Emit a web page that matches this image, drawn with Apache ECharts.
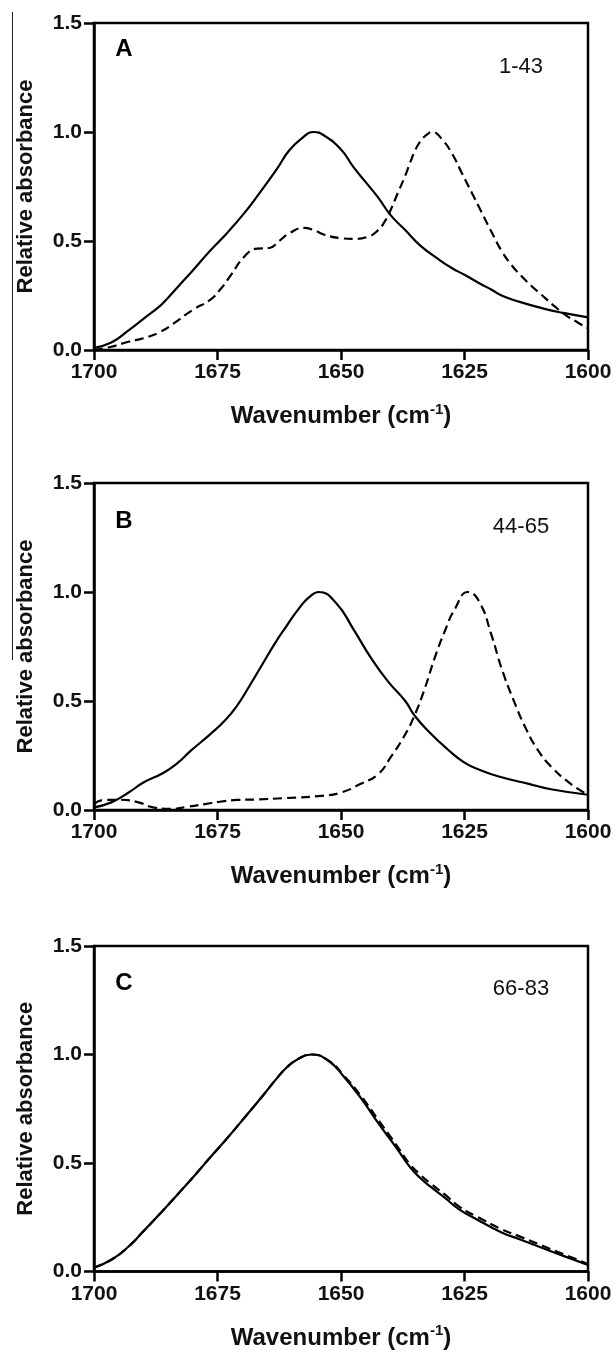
<!DOCTYPE html>
<html><head><meta charset="utf-8">
<script src="https://cdn.jsdelivr.net/npm/echarts@6/dist/echarts.min.js"></script>
<style>html,body{margin:0;padding:0;background:#fff}#c{width:616px;height:1351px}</style>
</head><body><div id="c"></div>
<script>
// ---- tick / label data ----
const xTickStep = 25;            // 1700,1675,1650,1625,1600
const xMin = 1600, xMax = 1700;
const yMin = 0, yMax = 1.5, yStep = 0.5;
const panelLetters = ['A', 'B', 'C'];
const panelRanges = ['1-43', '44-65', '66-83'];
const yTitle = 'Relative absorbance';
const xTitle = 'Wavenumber (cm{sup|-1})';

// ---- Panel A ----
const aSolidX = [1700,1696.5,1693,1690,1686.5,1685,1683,1680,1676.5,1673,1669.5,1666.5,1663,1660.5,1658,1655.5,1653.5,1650,1647.5,1645,1642.5,1640,1637,1634,1630.5,1627.5,1625,1622,1619.5,1617.5,1614,1609,1605,1600];
const aSolidY = [0.01,0.034,0.09,0.143,0.205,0.24,0.29,0.365,0.455,0.538,0.63,0.72,0.83,0.915,0.97,1.0,0.985,0.92,0.84,0.77,0.70,0.62,0.55,0.48,0.42,0.375,0.345,0.306,0.276,0.25,0.222,0.19,0.17,0.15];
const aDashX = [1700,1696.5,1693,1690,1686.5,1684,1680,1676.5,1674.5,1672.5,1669.5,1667,1664.5,1662.5,1660.5,1657.5,1655.5,1653.5,1650,1647.5,1644.5,1642.5,1641,1640,1638.5,1637,1636,1635,1634,1632.5,1631.5,1629.5,1627.5,1625.5,1623.5,1621.5,1619.5,1617.5,1615.5,1613.5,1611.5,1609.5,1607,1604.5,1602,1600];
const aDashY = [0.0,0.015,0.038,0.054,0.084,0.12,0.184,0.23,0.276,0.337,0.43,0.465,0.468,0.50,0.535,0.56,0.55,0.53,0.513,0.51,0.52,0.55,0.595,0.64,0.72,0.80,0.86,0.915,0.955,0.99,1.0,0.965,0.90,0.81,0.72,0.63,0.54,0.455,0.39,0.34,0.295,0.255,0.205,0.16,0.125,0.10];

// ---- Panel B ----
const bSolidX = [1700,1696.5,1693,1690,1686,1683,1680.5,1676.5,1673.5,1671,1668.5,1666,1663.5,1661,1658.5,1656.5,1654.5,1651,1647.5,1644,1640.5,1637,1635,1632,1628.5,1625,1621.5,1617.5,1612,1607.5,1600];
const bSolidY = [0.012,0.035,0.08,0.126,0.17,0.217,0.27,0.347,0.41,0.48,0.57,0.665,0.76,0.845,0.925,0.975,1.0,0.95,0.83,0.70,0.59,0.50,0.43,0.354,0.28,0.217,0.18,0.15,0.12,0.095,0.07];
const bDashX = [1700,1698,1694.5,1691,1688,1684.5,1681,1677.5,1674.5,1671,1667.5,1661,1654,1650,1646,1642.5,1640,1637,1635,1633,1631,1629,1627,1624.3,1622,1619.5,1617.5,1615,1612.5,1610,1607.5,1603.5,1600];
const bDashY = [0.027,0.046,0.047,0.035,0.012,0.005,0.015,0.027,0.038,0.046,0.048,0.055,0.065,0.08,0.12,0.164,0.24,0.347,0.44,0.56,0.70,0.82,0.92,1.0,0.955,0.80,0.65,0.50,0.37,0.27,0.20,0.12,0.07];

// ---- Panel C ----
const cSolidX = [1700,1696.5,1693,1690,1686.5,1683,1679.5,1676.5,1673,1669.5,1666,1663,1661,1659,1656,1652.5,1649.5,1646,1642.5,1639,1636,1634,1632,1629,1626,1622.5,1617.5,1614,1610,1605,1600];
const cSolidY = [0.018,0.054,0.115,0.185,0.27,0.357,0.446,0.525,0.615,0.71,0.805,0.89,0.94,0.975,1.0,0.97,0.90,0.80,0.685,0.577,0.48,0.432,0.393,0.34,0.285,0.24,0.18,0.15,0.115,0.072,0.03];
const cDashX = [1700,1696.5,1693,1690,1686.5,1683,1679.5,1676.5,1673,1669.5,1666,1663,1661,1659,1656,1652.5,1649.5,1646,1642.5,1639,1636,1634,1632,1629,1626,1622.5,1617.5,1614,1610,1605,1600];
const cDashY = [0.018,0.054,0.115,0.185,0.27,0.357,0.446,0.525,0.615,0.71,0.805,0.89,0.94,0.975,1.0,0.972,0.905,0.81,0.70,0.59,0.493,0.447,0.408,0.355,0.298,0.253,0.195,0.163,0.126,0.08,0.035];

const panels = [
  {solid: [aSolidX, aSolidY], dash: [aDashX, aDashY]},
  {solid: [bSolidX, bSolidY], dash: [bDashX, bDashY]},
  {solid: [cSolidX, cSolidY], dash: [cDashX, cDashY]}
];

// ---- layout (styling only) ----
const FONT = '"Liberation Sans", Arial, Helvetica, sans-serif';
const gridTops = [23, 483, 946];
const gridH = 327;
const gridLeft = 94, gridW = 494;
const letterY = [49, 521, 983];
const rangeY = [67, 527, 989];

const zip = (xs, ys) => xs.map((x, i) => [x, ys[i]]);

const grids = [], xAxes = [], yAxes = [], series = [], graphics = [];
panels.forEach((p, i) => {
  grids.push({left: gridLeft, top: gridTops[i], width: gridW, height: gridH,
    show: true, borderColor: '#000', borderWidth: 2.5, backgroundColor: 'transparent'});
  xAxes.push({
    gridIndex: i, type: 'value', min: xMin, max: xMax, interval: xTickStep, inverse: true,
    axisLine: {show: true, onZero: false, lineStyle: {color: '#000', width: 2.5}},
    axisTick: {show: true, inside: false, length: 10, lineStyle: {color: '#000', width: 2.5}},
    axisLabel: {color: '#111', fontSize: 21, fontWeight: 'bold', fontFamily: FONT, margin: 12,
      formatter: v => String(v)},
    splitLine: {show: false},
    name: xTitle, nameLocation: 'middle', nameGap: 52,
    nameTextStyle: {color: '#111', fontSize: 24, fontWeight: 'bold', fontFamily: FONT,
      rich: {sup: {fontSize: 15, fontWeight: 'bold', fontFamily: FONT, color: '#111', padding: [0, 0, 14, 0]}}}
  });
  yAxes.push({
    gridIndex: i, type: 'value', min: yMin, max: yMax, interval: yStep,
    axisLine: {show: true, onZero: false, lineStyle: {color: '#000', width: 2.5}},
    axisTick: {show: true, inside: false, length: 10, lineStyle: {color: '#000', width: 2.5}},
    axisLabel: {color: '#111', fontSize: 21, fontWeight: 'bold', fontFamily: FONT, margin: 12,
      formatter: v => v.toFixed(1)},
    splitLine: {show: false},
    name: yTitle, nameLocation: 'middle', nameGap: 57, nameRotate: 90,
    nameTextStyle: {color: '#111', fontSize: 22, fontWeight: 'bold', fontFamily: FONT}
  });
  series.push({type: 'line', xAxisIndex: i, yAxisIndex: i, data: zip(p.solid[0], p.solid[1]),
    showSymbol: false, smooth: 0.5, lineStyle: {color: '#000', width: 2.2, type: 'solid'}, z: 3});
  series.push({type: 'line', xAxisIndex: i, yAxisIndex: i, data: zip(p.dash[0], p.dash[1]),
    showSymbol: false, smooth: 0.5, lineStyle: {color: '#000', width: 2.2, type: [9, 5]}, z: 2});
  graphics.push({type: 'text', x: 124, y: letterY[i], style: {text: panelLetters[i],
    font: 'bold 24px ' + FONT, fill: '#000', textAlign: 'center', textVerticalAlign: 'middle', align: 'center', verticalAlign: 'middle'}});
  graphics.push({type: 'text', x: 521, y: rangeY[i], style: {text: panelRanges[i],
    font: '22px ' + FONT, fill: '#111', textAlign: 'center', textVerticalAlign: 'middle', align: 'center', verticalAlign: 'middle'}});
});
graphics.push({type: 'line', shape: {x1: 12.5, y1: 12, x2: 12.5, y2: 660}, style: {stroke: '#222', lineWidth: 1}});

const chart = echarts.init(document.getElementById('c'), null, {renderer: 'canvas'});
chart.setOption({
  backgroundColor: '#fff',
  animation: false,
  grid: grids, xAxis: xAxes, yAxis: yAxes, series: series, graphic: graphics
});
</script></body></html>
